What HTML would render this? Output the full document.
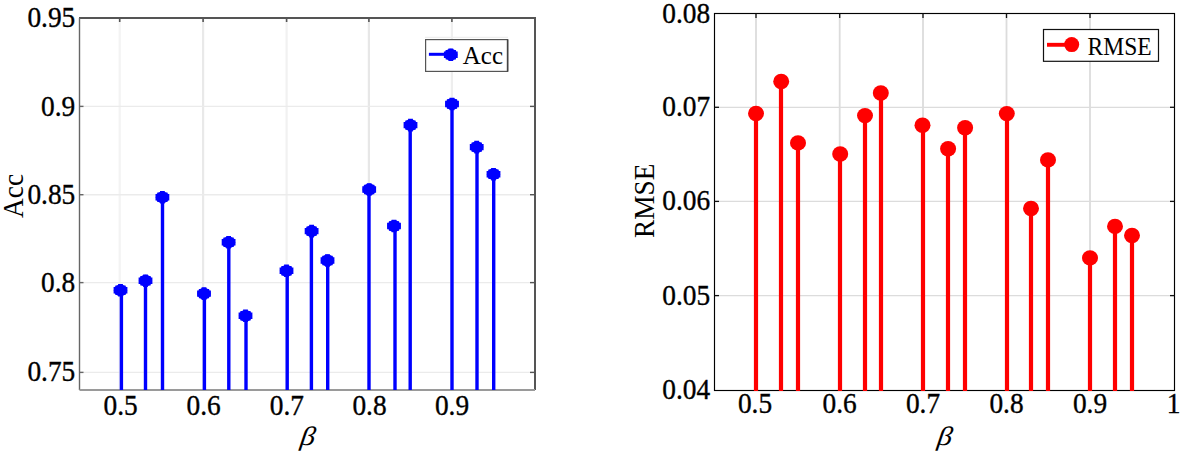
<!DOCTYPE html><html><head><meta charset="utf-8"><style>html,body{margin:0;padding:0;background:#fff;width:1181px;height:453px;overflow:hidden}svg{display:block}text{font-family:"Liberation Serif",serif}</style></head><body>
<svg width="1181" height="453" viewBox="0 0 1181 453">
<rect width="1181" height="453" fill="#fff"/>
<line x1="119.7" y1="18" x2="119.7" y2="390" stroke="#f3f3f3" stroke-width="2.2"/>
<line x1="203.1" y1="18" x2="203.1" y2="390" stroke="#e9e9e9" stroke-width="2.2"/>
<line x1="286.6" y1="18" x2="286.6" y2="390" stroke="#f1f1f1" stroke-width="2.2"/>
<line x1="368.9" y1="18" x2="368.9" y2="390" stroke="#e7e7e7" stroke-width="2.2"/>
<line x1="451.9" y1="18" x2="451.9" y2="390" stroke="#eeeeee" stroke-width="2.2"/>
<line x1="79.5" y1="106.4" x2="535" y2="106.4" stroke="#ebebeb" stroke-width="1.4"/>
<line x1="79.5" y1="194.7" x2="535" y2="194.7" stroke="#ebebeb" stroke-width="1.4"/>
<line x1="79.5" y1="282.6" x2="535" y2="282.6" stroke="#ebebeb" stroke-width="1.4"/>
<line x1="79.5" y1="372.4" x2="535" y2="372.4" stroke="#ebebeb" stroke-width="1.4"/>
<line x1="79.0" y1="18" x2="536" y2="18" stroke="#555" stroke-width="2"/>
<line x1="79.5" y1="18" x2="79.5" y2="390" stroke="#666" stroke-width="1.4"/>
<line x1="535" y1="17" x2="535" y2="390" stroke="#555" stroke-width="2"/>
<line x1="79.5" y1="390" x2="535" y2="390" stroke="#9a9a9a" stroke-width="2"/>
<line x1="119.7" y1="18" x2="119.7" y2="22" stroke="#555" stroke-width="1.6"/>
<line x1="203.1" y1="18" x2="203.1" y2="22" stroke="#555" stroke-width="1.6"/>
<line x1="286.6" y1="18" x2="286.6" y2="22" stroke="#555" stroke-width="1.6"/>
<line x1="368.9" y1="18" x2="368.9" y2="22" stroke="#555" stroke-width="1.6"/>
<line x1="451.9" y1="18" x2="451.9" y2="22" stroke="#555" stroke-width="1.6"/>
<line x1="79.5" y1="106.4" x2="83.5" y2="106.4" stroke="#666" stroke-width="1.4"/>
<line x1="535" y1="106.4" x2="530" y2="106.4" stroke="#555" stroke-width="1.4"/>
<line x1="79.5" y1="194.7" x2="83.5" y2="194.7" stroke="#666" stroke-width="1.4"/>
<line x1="535" y1="194.7" x2="530" y2="194.7" stroke="#555" stroke-width="1.4"/>
<line x1="79.5" y1="282.6" x2="83.5" y2="282.6" stroke="#666" stroke-width="1.4"/>
<line x1="535" y1="282.6" x2="530" y2="282.6" stroke="#555" stroke-width="1.4"/>
<line x1="79.5" y1="372.4" x2="83.5" y2="372.4" stroke="#666" stroke-width="1.4"/>
<line x1="535" y1="372.4" x2="530" y2="372.4" stroke="#555" stroke-width="1.4"/>
<line x1="121.4" y1="290.3" x2="121.4" y2="390" stroke="#0000ff" stroke-width="3.4"/>
<line x1="145.5" y1="280.7" x2="145.5" y2="390" stroke="#0000ff" stroke-width="3.4"/>
<line x1="162.5" y1="197.3" x2="162.5" y2="390" stroke="#0000ff" stroke-width="3.4"/>
<line x1="204.4" y1="293.6" x2="204.4" y2="390" stroke="#0000ff" stroke-width="3.4"/>
<line x1="228.8" y1="242.3" x2="228.8" y2="390" stroke="#0000ff" stroke-width="3.4"/>
<line x1="246" y1="315.8" x2="246" y2="390" stroke="#0000ff" stroke-width="3.4"/>
<line x1="287.2" y1="270.8" x2="287.2" y2="390" stroke="#0000ff" stroke-width="3.4"/>
<line x1="311.4" y1="231.1" x2="311.4" y2="390" stroke="#0000ff" stroke-width="3.4"/>
<line x1="327.7" y1="260.5" x2="327.7" y2="390" stroke="#0000ff" stroke-width="3.4"/>
<line x1="369" y1="189.5" x2="369" y2="390" stroke="#0000ff" stroke-width="3.4"/>
<line x1="395" y1="226" x2="395" y2="390" stroke="#0000ff" stroke-width="3.4"/>
<line x1="410.2" y1="125.1" x2="410.2" y2="390" stroke="#0000ff" stroke-width="3.4"/>
<line x1="452" y1="104" x2="452" y2="390" stroke="#0000ff" stroke-width="3.4"/>
<line x1="477" y1="147.1" x2="477" y2="390" stroke="#0000ff" stroke-width="3.4"/>
<line x1="493.7" y1="174.2" x2="493.7" y2="390" stroke="#0000ff" stroke-width="3.4"/>
<path d="M118.1,284.0 L122.9,284.0 L122.9,285.6 L125.6,285.6 L125.6,287.1 L127.4,287.1 L127.4,293.5 L125.6,293.5 L125.6,295.0 L122.9,295.0 L122.9,296.6 L118.1,296.6 L118.1,295.0 L115.4,295.0 L115.4,293.5 L113.6,293.5 L113.6,287.1 L115.4,287.1 L115.4,285.6 L118.1,285.6Z" fill="#0000ff"/>
<ellipse cx="120.5" cy="290.3" rx="6.6" ry="5.9" fill="#0000ff"/>
<path d="M143.1,274.4 L147.9,274.4 L147.9,276.0 L150.6,276.0 L150.6,277.5 L152.4,277.5 L152.4,283.9 L150.6,283.9 L150.6,285.4 L147.9,285.4 L147.9,287.0 L143.1,287.0 L143.1,285.4 L140.4,285.4 L140.4,283.9 L138.6,283.9 L138.6,277.5 L140.4,277.5 L140.4,276.0 L143.1,276.0Z" fill="#0000ff"/>
<ellipse cx="145.5" cy="280.7" rx="6.6" ry="5.9" fill="#0000ff"/>
<path d="M160.0,191.0 L164.8,191.0 L164.8,192.6 L167.5,192.6 L167.5,194.1 L169.3,194.1 L169.3,200.5 L167.5,200.5 L167.5,202.0 L164.8,202.0 L164.8,203.6 L160.0,203.6 L160.0,202.0 L157.3,202.0 L157.3,200.5 L155.5,200.5 L155.5,194.1 L157.3,194.1 L157.3,192.6 L160.0,192.6Z" fill="#0000ff"/>
<ellipse cx="162.4" cy="197.3" rx="6.6" ry="5.9" fill="#0000ff"/>
<path d="M201.6,287.3 L206.4,287.3 L206.4,288.9 L209.1,288.9 L209.1,290.4 L210.9,290.4 L210.9,296.8 L209.1,296.8 L209.1,298.3 L206.4,298.3 L206.4,299.9 L201.6,299.9 L201.6,298.3 L198.9,298.3 L198.9,296.8 L197.1,296.8 L197.1,290.4 L198.9,290.4 L198.9,288.9 L201.6,288.9Z" fill="#0000ff"/>
<ellipse cx="204" cy="293.6" rx="6.6" ry="5.9" fill="#0000ff"/>
<path d="M226.2,236.0 L231.0,236.0 L231.0,237.6 L233.7,237.6 L233.7,239.1 L235.5,239.1 L235.5,245.5 L233.7,245.5 L233.7,247.0 L231.0,247.0 L231.0,248.6 L226.2,248.6 L226.2,247.0 L223.5,247.0 L223.5,245.5 L221.7,245.5 L221.7,239.1 L223.5,239.1 L223.5,237.6 L226.2,237.6Z" fill="#0000ff"/>
<ellipse cx="228.6" cy="242.3" rx="6.6" ry="5.9" fill="#0000ff"/>
<path d="M243.1,309.5 L247.9,309.5 L247.9,311.1 L250.6,311.1 L250.6,312.6 L252.4,312.6 L252.4,319.0 L250.6,319.0 L250.6,320.5 L247.9,320.5 L247.9,322.1 L243.1,322.1 L243.1,320.5 L240.4,320.5 L240.4,319.0 L238.6,319.0 L238.6,312.6 L240.4,312.6 L240.4,311.1 L243.1,311.1Z" fill="#0000ff"/>
<ellipse cx="245.5" cy="315.8" rx="6.6" ry="5.9" fill="#0000ff"/>
<path d="M284.1,264.5 L288.9,264.5 L288.9,266.1 L291.6,266.1 L291.6,267.6 L293.4,267.6 L293.4,274.0 L291.6,274.0 L291.6,275.5 L288.9,275.5 L288.9,277.1 L284.1,277.1 L284.1,275.5 L281.4,275.5 L281.4,274.0 L279.6,274.0 L279.6,267.6 L281.4,267.6 L281.4,266.1 L284.1,266.1Z" fill="#0000ff"/>
<ellipse cx="286.5" cy="270.8" rx="6.6" ry="5.9" fill="#0000ff"/>
<path d="M309.2,224.8 L314.0,224.8 L314.0,226.4 L316.7,226.4 L316.7,227.9 L318.5,227.9 L318.5,234.3 L316.7,234.3 L316.7,235.8 L314.0,235.8 L314.0,237.4 L309.2,237.4 L309.2,235.8 L306.5,235.8 L306.5,234.3 L304.7,234.3 L304.7,227.9 L306.5,227.9 L306.5,226.4 L309.2,226.4Z" fill="#0000ff"/>
<ellipse cx="311.6" cy="231.1" rx="6.6" ry="5.9" fill="#0000ff"/>
<path d="M325.1,254.2 L329.9,254.2 L329.9,255.8 L332.6,255.8 L332.6,257.3 L334.4,257.3 L334.4,263.7 L332.6,263.7 L332.6,265.2 L329.9,265.2 L329.9,266.8 L325.1,266.8 L325.1,265.2 L322.4,265.2 L322.4,263.7 L320.6,263.7 L320.6,257.3 L322.4,257.3 L322.4,255.8 L325.1,255.8Z" fill="#0000ff"/>
<ellipse cx="327.5" cy="260.5" rx="6.6" ry="5.9" fill="#0000ff"/>
<path d="M366.8,183.2 L371.6,183.2 L371.6,184.8 L374.3,184.8 L374.3,186.3 L376.1,186.3 L376.1,192.7 L374.3,192.7 L374.3,194.2 L371.6,194.2 L371.6,195.8 L366.8,195.8 L366.8,194.2 L364.1,194.2 L364.1,192.7 L362.3,192.7 L362.3,186.3 L364.1,186.3 L364.1,184.8 L366.8,184.8Z" fill="#0000ff"/>
<ellipse cx="369.2" cy="189.5" rx="6.6" ry="5.9" fill="#0000ff"/>
<path d="M391.6,219.7 L396.4,219.7 L396.4,221.3 L399.1,221.3 L399.1,222.8 L400.9,222.8 L400.9,229.2 L399.1,229.2 L399.1,230.7 L396.4,230.7 L396.4,232.3 L391.6,232.3 L391.6,230.7 L388.9,230.7 L388.9,229.2 L387.1,229.2 L387.1,222.8 L388.9,222.8 L388.9,221.3 L391.6,221.3Z" fill="#0000ff"/>
<ellipse cx="394" cy="226" rx="6.6" ry="5.9" fill="#0000ff"/>
<path d="M408.1,118.8 L412.9,118.8 L412.9,120.4 L415.6,120.4 L415.6,121.9 L417.4,121.9 L417.4,128.3 L415.6,128.3 L415.6,129.8 L412.9,129.8 L412.9,131.4 L408.1,131.4 L408.1,129.8 L405.4,129.8 L405.4,128.3 L403.6,128.3 L403.6,121.9 L405.4,121.9 L405.4,120.4 L408.1,120.4Z" fill="#0000ff"/>
<ellipse cx="410.5" cy="125.1" rx="6.6" ry="5.9" fill="#0000ff"/>
<path d="M449.6,97.7 L454.4,97.7 L454.4,99.3 L457.1,99.3 L457.1,100.8 L458.9,100.8 L458.9,107.2 L457.1,107.2 L457.1,108.7 L454.4,108.7 L454.4,110.3 L449.6,110.3 L449.6,108.7 L446.9,108.7 L446.9,107.2 L445.1,107.2 L445.1,100.8 L446.9,100.8 L446.9,99.3 L449.6,99.3Z" fill="#0000ff"/>
<ellipse cx="452" cy="104" rx="6.6" ry="5.9" fill="#0000ff"/>
<path d="M474.3,140.8 L479.1,140.8 L479.1,142.4 L481.8,142.4 L481.8,143.9 L483.6,143.9 L483.6,150.3 L481.8,150.3 L481.8,151.8 L479.1,151.8 L479.1,153.4 L474.3,153.4 L474.3,151.8 L471.6,151.8 L471.6,150.3 L469.8,150.3 L469.8,143.9 L471.6,143.9 L471.6,142.4 L474.3,142.4Z" fill="#0000ff"/>
<ellipse cx="476.7" cy="147.1" rx="6.6" ry="5.9" fill="#0000ff"/>
<path d="M491.1,167.9 L495.9,167.9 L495.9,169.5 L498.6,169.5 L498.6,171.0 L500.4,171.0 L500.4,177.4 L498.6,177.4 L498.6,178.9 L495.9,178.9 L495.9,180.5 L491.1,180.5 L491.1,178.9 L488.4,178.9 L488.4,177.4 L486.6,177.4 L486.6,171.0 L488.4,171.0 L488.4,169.5 L491.1,169.5Z" fill="#0000ff"/>
<ellipse cx="493.5" cy="174.2" rx="6.6" ry="5.9" fill="#0000ff"/>
<text transform="translate(75.3,27.200000000000003) scale(0.96,1)" font-size="28.5" text-anchor="end" stroke="#000" stroke-width="0.35">0.95</text>
<text transform="translate(75.3,115.80000000000001) scale(0.96,1)" font-size="28.5" text-anchor="end" stroke="#000" stroke-width="0.35">0.9</text>
<text transform="translate(75.3,204.1) scale(0.96,1)" font-size="28.5" text-anchor="end" stroke="#000" stroke-width="0.35">0.85</text>
<text transform="translate(75.3,292.0) scale(0.96,1)" font-size="28.5" text-anchor="end" stroke="#000" stroke-width="0.35">0.8</text>
<text transform="translate(75.3,381.0) scale(0.96,1)" font-size="28.5" text-anchor="end" stroke="#000" stroke-width="0.35">0.75</text>
<text transform="translate(120.6,414.8) scale(0.96,1)" font-size="28.5" text-anchor="middle" stroke="#000" stroke-width="0.35">0.5</text>
<text transform="translate(203.7,414.8) scale(0.96,1)" font-size="28.5" text-anchor="middle" stroke="#000" stroke-width="0.35">0.6</text>
<text transform="translate(286.8,414.8) scale(0.96,1)" font-size="28.5" text-anchor="middle" stroke="#000" stroke-width="0.35">0.7</text>
<text transform="translate(369.5,414.8) scale(0.96,1)" font-size="28.5" text-anchor="middle" stroke="#000" stroke-width="0.35">0.8</text>
<text transform="translate(452,414.8) scale(0.96,1)" font-size="28.5" text-anchor="middle" stroke="#000" stroke-width="0.35">0.9</text>
<text transform="translate(306.8,445.2) skewX(-8) scale(1.04,0.93)" font-size="28.5" font-style="italic" text-anchor="middle">&#946;</text>
<text transform="translate(23.2,196) rotate(-90) scale(0.96,1)" font-size="28.5" text-anchor="middle">Acc</text>
<line x1="425" y1="37.3" x2="508" y2="37.3" stroke="#eee" stroke-width="1.2"/>
<rect x="425.6" y="39.6" width="82" height="31.8" fill="#fff" stroke="#555" stroke-width="1.2"/>
<line x1="507.6" y1="39.5" x2="507.6" y2="71.5" stroke="#444" stroke-width="1.6"/>
<line x1="428.9" y1="54.3" x2="451" y2="54.3" stroke="#0000ff" stroke-width="3"/>
<path d="M448.4,48.4 L453.2,48.4 L453.2,50.0 L455.9,50.0 L455.9,51.5 L457.7,51.5 L457.7,57.9 L455.9,57.9 L455.9,59.4 L453.2,59.4 L453.2,61.0 L448.4,61.0 L448.4,59.4 L445.7,59.4 L445.7,57.9 L443.9,57.9 L443.9,51.5 L445.7,51.5 L445.7,50.0 L448.4,50.0Z" fill="#0000ff"/>
<ellipse cx="450.8" cy="54.7" rx="6.6" ry="5.9" fill="#0000ff"/>
<text transform="translate(462.8,63.6) scale(0.96,1)" font-size="26" text-anchor="start">Acc</text>
<line x1="756" y1="13.5" x2="756" y2="390.5" stroke="#dcdcdc" stroke-width="1.8"/>
<line x1="839.7" y1="13.5" x2="839.7" y2="390.5" stroke="#dcdcdc" stroke-width="1.8"/>
<line x1="923" y1="13.5" x2="923" y2="390.5" stroke="#dcdcdc" stroke-width="1.8"/>
<line x1="1006.5" y1="13.5" x2="1006.5" y2="390.5" stroke="#dcdcdc" stroke-width="1.8"/>
<line x1="1090" y1="13.5" x2="1090" y2="390.5" stroke="#dcdcdc" stroke-width="1.8"/>
<line x1="714.5" y1="107.3" x2="1174.5" y2="107.3" stroke="#dcdcdc" stroke-width="1.3"/>
<line x1="714.5" y1="201.4" x2="1174.5" y2="201.4" stroke="#dcdcdc" stroke-width="1.3"/>
<line x1="714.5" y1="295.6" x2="1174.5" y2="295.6" stroke="#dcdcdc" stroke-width="1.3"/>
<rect x="714.5" y="13.5" width="460.0" height="377.0" fill="none" stroke="#000" stroke-width="1.15"/>
<line x1="756" y1="13.5" x2="756" y2="18.0" stroke="#111" stroke-width="1.3"/>
<line x1="756" y1="390.5" x2="756" y2="386.0" stroke="#111" stroke-width="1.3"/>
<line x1="839.7" y1="13.5" x2="839.7" y2="18.0" stroke="#111" stroke-width="1.3"/>
<line x1="839.7" y1="390.5" x2="839.7" y2="386.0" stroke="#111" stroke-width="1.3"/>
<line x1="923" y1="13.5" x2="923" y2="18.0" stroke="#111" stroke-width="1.3"/>
<line x1="923" y1="390.5" x2="923" y2="386.0" stroke="#111" stroke-width="1.3"/>
<line x1="1006.5" y1="13.5" x2="1006.5" y2="18.0" stroke="#111" stroke-width="1.3"/>
<line x1="1006.5" y1="390.5" x2="1006.5" y2="386.0" stroke="#111" stroke-width="1.3"/>
<line x1="1090" y1="13.5" x2="1090" y2="18.0" stroke="#111" stroke-width="1.3"/>
<line x1="1090" y1="390.5" x2="1090" y2="386.0" stroke="#111" stroke-width="1.3"/>
<line x1="714.5" y1="107.3" x2="719.0" y2="107.3" stroke="#111" stroke-width="1.3"/>
<line x1="1174.5" y1="107.3" x2="1170.0" y2="107.3" stroke="#111" stroke-width="1.3"/>
<line x1="714.5" y1="201.4" x2="719.0" y2="201.4" stroke="#111" stroke-width="1.3"/>
<line x1="1174.5" y1="201.4" x2="1170.0" y2="201.4" stroke="#111" stroke-width="1.3"/>
<line x1="714.5" y1="295.6" x2="719.0" y2="295.6" stroke="#111" stroke-width="1.3"/>
<line x1="1174.5" y1="295.6" x2="1170.0" y2="295.6" stroke="#111" stroke-width="1.3"/>
<line x1="756" y1="113.5" x2="756" y2="391.0" stroke="#ff0000" stroke-width="4.2"/>
<line x1="781" y1="81.5" x2="781" y2="391.0" stroke="#ff0000" stroke-width="4.2"/>
<line x1="798" y1="142.9" x2="798" y2="391.0" stroke="#ff0000" stroke-width="4.2"/>
<line x1="840" y1="154" x2="840" y2="391.0" stroke="#ff0000" stroke-width="4.2"/>
<line x1="865" y1="115.6" x2="865" y2="391.0" stroke="#ff0000" stroke-width="4.2"/>
<line x1="881" y1="93" x2="881" y2="391.0" stroke="#ff0000" stroke-width="4.2"/>
<line x1="923" y1="125.2" x2="923" y2="391.0" stroke="#ff0000" stroke-width="4.2"/>
<line x1="948" y1="148.7" x2="948" y2="391.0" stroke="#ff0000" stroke-width="4.2"/>
<line x1="965" y1="127.7" x2="965" y2="391.0" stroke="#ff0000" stroke-width="4.2"/>
<line x1="1007" y1="113.6" x2="1007" y2="391.0" stroke="#ff0000" stroke-width="4.2"/>
<line x1="1031" y1="208.5" x2="1031" y2="391.0" stroke="#ff0000" stroke-width="4.2"/>
<line x1="1048" y1="159.9" x2="1048" y2="391.0" stroke="#ff0000" stroke-width="4.2"/>
<line x1="1090" y1="257.9" x2="1090" y2="391.0" stroke="#ff0000" stroke-width="4.2"/>
<line x1="1115" y1="226.4" x2="1115" y2="391.0" stroke="#ff0000" stroke-width="4.2"/>
<line x1="1132" y1="235.5" x2="1132" y2="391.0" stroke="#ff0000" stroke-width="4.2"/>
<ellipse cx="756" cy="113.5" rx="8" ry="7.7" fill="#ff0000"/>
<ellipse cx="781.2" cy="81.5" rx="8" ry="7.7" fill="#ff0000"/>
<ellipse cx="798" cy="142.9" rx="8" ry="7.7" fill="#ff0000"/>
<ellipse cx="840.2" cy="154" rx="8" ry="7.7" fill="#ff0000"/>
<ellipse cx="865" cy="115.6" rx="8" ry="7.7" fill="#ff0000"/>
<ellipse cx="880.8" cy="93" rx="8" ry="7.7" fill="#ff0000"/>
<ellipse cx="922.5" cy="125.2" rx="8" ry="7.7" fill="#ff0000"/>
<ellipse cx="948.1" cy="148.7" rx="8" ry="7.7" fill="#ff0000"/>
<ellipse cx="965.1" cy="127.7" rx="8" ry="7.7" fill="#ff0000"/>
<ellipse cx="1006.8" cy="113.6" rx="8" ry="7.7" fill="#ff0000"/>
<ellipse cx="1031" cy="208.5" rx="8" ry="7.7" fill="#ff0000"/>
<ellipse cx="1048" cy="159.9" rx="8" ry="7.7" fill="#ff0000"/>
<ellipse cx="1090" cy="257.9" rx="8" ry="7.7" fill="#ff0000"/>
<ellipse cx="1115" cy="226.4" rx="8" ry="7.7" fill="#ff0000"/>
<ellipse cx="1132" cy="235.5" rx="8" ry="7.7" fill="#ff0000"/>
<text transform="translate(710.1,22.5) scale(0.96,1)" font-size="28.5" text-anchor="end" stroke="#000" stroke-width="0.35">0.08</text>
<text transform="translate(710.1,116.3) scale(0.96,1)" font-size="28.5" text-anchor="end" stroke="#000" stroke-width="0.35">0.07</text>
<text transform="translate(710.1,210.4) scale(0.96,1)" font-size="28.5" text-anchor="end" stroke="#000" stroke-width="0.35">0.06</text>
<text transform="translate(710.1,304.6) scale(0.96,1)" font-size="28.5" text-anchor="end" stroke="#000" stroke-width="0.35">0.05</text>
<text transform="translate(710.1,398.8) scale(0.96,1)" font-size="28.5" text-anchor="end" stroke="#000" stroke-width="0.35">0.04</text>
<text transform="translate(755,413.1) scale(0.96,1)" font-size="28.5" text-anchor="middle" stroke="#000" stroke-width="0.35">0.5</text>
<text transform="translate(839.7,413.1) scale(0.96,1)" font-size="28.5" text-anchor="middle" stroke="#000" stroke-width="0.35">0.6</text>
<text transform="translate(923,413.1) scale(0.96,1)" font-size="28.5" text-anchor="middle" stroke="#000" stroke-width="0.35">0.7</text>
<text transform="translate(1006.5,413.1) scale(0.96,1)" font-size="28.5" text-anchor="middle" stroke="#000" stroke-width="0.35">0.8</text>
<text transform="translate(1090,413.1) scale(0.96,1)" font-size="28.5" text-anchor="middle" stroke="#000" stroke-width="0.35">0.9</text>
<text transform="translate(1173.5,413.1) scale(0.96,1)" font-size="28.5" text-anchor="middle" stroke="#000" stroke-width="0.35">1</text>
<text transform="translate(943.9,445.2) skewX(-8) scale(1.04,0.93)" font-size="28.5" font-style="italic" text-anchor="middle">&#946;</text>
<text transform="translate(653.5,200.8) rotate(-90) scale(0.96,1)" font-size="28.5" text-anchor="middle">RMSE</text>
<rect x="1043.5" y="29.5" width="115" height="31.8" fill="#fff" stroke="#111" stroke-width="1.2"/>
<line x1="1047" y1="44.8" x2="1070" y2="44.8" stroke="#ff0000" stroke-width="3.9"/>
<circle cx="1071.7" cy="44.6" r="7.5" fill="#ff0000"/>
<text transform="translate(1087.6,54.9) scale(0.96,1)" font-size="24.5" text-anchor="start">RMSE</text>
</svg></body></html>
